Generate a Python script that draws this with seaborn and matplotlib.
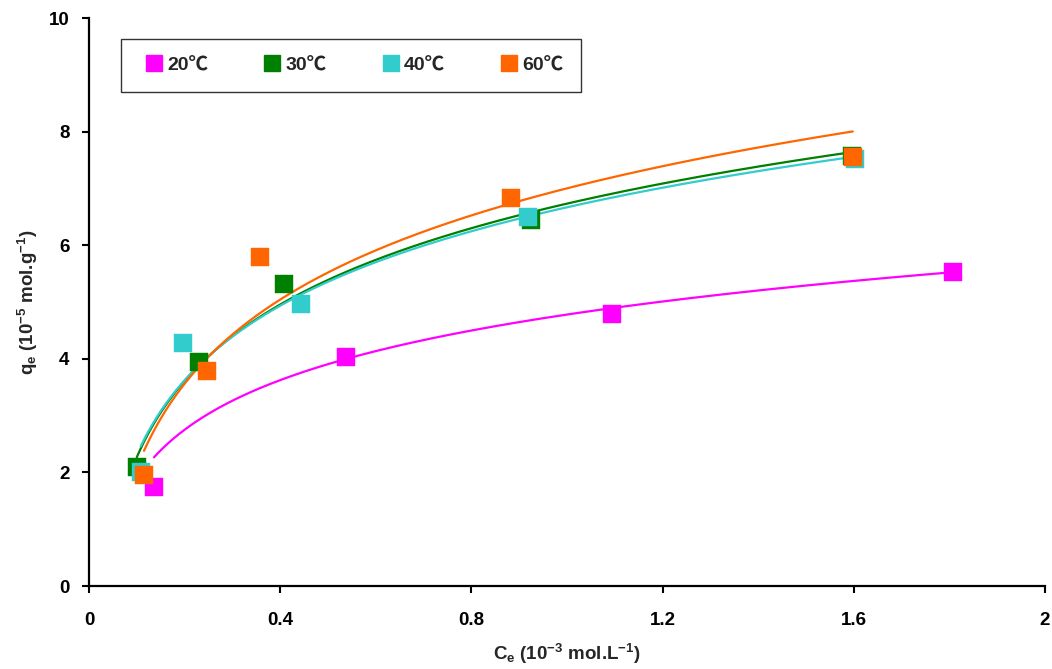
import numpy as np
import pandas as pd
import matplotlib
matplotlib.use("Agg")
import matplotlib.pyplot as plt
import seaborn as sns
from matplotlib.lines import Line2D

# ---- data ----
labels = ["20℃", "30℃", "40℃", "60℃"]
colors = ["#FF00FF", "#008000", "#33CCCC", "#FF6600"]

ce_20 = [0.136, 0.537, 1.094, 1.808]
qe_20 = [1.75, 4.04, 4.79, 5.53]

ce_30 = [0.100, 0.231, 0.407, 0.924, 1.596]
qe_30 = [2.10, 3.94, 5.32, 6.44, 7.57]

ce_40 = [0.108, 0.197, 0.443, 0.918, 1.603]
qe_40 = [2.01, 4.28, 4.96, 6.49, 7.51]

ce_60 = [0.115, 0.247, 0.358, 0.883, 1.598]
qe_60 = [1.95, 3.79, 5.80, 6.84, 7.56]

# logarithmic trend-line coefficients (q = a ln C + b); None -> least-squares fit of the series
trend_20 = (1.26, 4.78)
trend_30 = None
trend_40 = None
trend_60 = None

x_ticks = [0, 0.4, 0.8, 1.2, 1.6, 2]
x_tick_labels = ["0", "0.4", "0.8", "1.2", "1.6", "2"]
y_ticks = [0, 2, 4, 6, 8, 10]

series = [(ce_20, qe_20), (ce_30, qe_30), (ce_40, qe_40), (ce_60, qe_60)]
trends = [trend_20, trend_30, trend_40, trend_60]

sns.set_style("white")
plt.rcParams["font.family"] = ["Liberation Sans", "Noto Sans CJK SC", "DejaVu Sans"]
plt.rcParams["font.weight"] = "bold"
plt.rcParams["mathtext.fontset"] = "custom"
plt.rcParams["mathtext.bf"] = "Liberation Sans:bold"
plt.rcParams["mathtext.rm"] = "Liberation Sans:bold"
plt.rcParams["mathtext.default"] = "bf"

fig = plt.figure(figsize=(10.52, 6.69), dpi=100)
ax = fig.add_axes([0.0846, 0.124, 0.9087, 0.849])

for (cx, qy), col, tr in zip(series, colors, trends):
    cx = np.asarray(cx); qy = np.asarray(qy)
    if tr is None:
        a, b = np.polyfit(np.log(cx), qy, 1)
    else:
        a, b = tr
    xs = np.linspace(cx.min(), cx.max(), 200)
    fit_df = pd.DataFrame({"x": xs, "y": a * np.log(xs) + b})
    sns.lineplot(data=fit_df, x="x", y="y", color=col, lw=1.6, ax=ax,
                 zorder=2, legend=False)

# markers (drawing order: 20, 30, 40, 60)
for (cx, qy), col in zip(series, colors):
    df = pd.DataFrame({"x": cx, "y": qy})
    sns.scatterplot(data=df, x="x", y="y", color=col, marker="s", s=150,
                    edgecolor=col, linewidth=0.3, ax=ax, zorder=3, legend=False)

ax.set_xlim(0, 2)
ax.set_ylim(0, 10)
ax.set_xticks(x_ticks)
ax.set_xticklabels(x_tick_labels)
ax.set_yticks(y_ticks)
ax.tick_params(axis="both", direction="out", length=5, width=1.5,
               labelsize=13.5, colors="black", bottom=True, left=True)
ax.tick_params(axis="x", pad=14)
ax.tick_params(axis="y", pad=9)
for lab in ax.get_xticklabels() + ax.get_yticklabels():
    lab.set_fontweight("bold")

for s in ["top", "right"]:
    ax.spines[s].set_visible(False)
for s in ["left", "bottom"]:
    ax.spines[s].set_linewidth(1.6)
    ax.spines[s].set_color("black")

ax.set_xlabel(r"C$_{e}$ (10$^{-3}$ mol.L$^{-1}$)", fontsize=13.5, fontweight="bold", labelpad=9)
ax.set_ylabel(r"q$_{e}$ (10$^{-5}$ mol.g$^{-1}$)", fontsize=13.5, fontweight="bold", labelpad=6)

handles = [Line2D([], [], marker="s", color=c, linestyle="none", markersize=11)
           for c in colors]
leg = ax.legend(handles, labels, loc="upper left", ncol=4,
                bbox_to_anchor=(0.0335, 0.963), frameon=True,
                fancybox=False, borderpad=0.9, handletextpad=-0.13,
                handlelength=1.6, columnspacing=2.5,
                prop={"size": 14, "weight": "bold"},
                borderaxespad=0)
leg.get_frame().set_edgecolor("black")
leg.get_frame().set_linewidth(1.0)

fig.savefig("out.png", dpi=100)
